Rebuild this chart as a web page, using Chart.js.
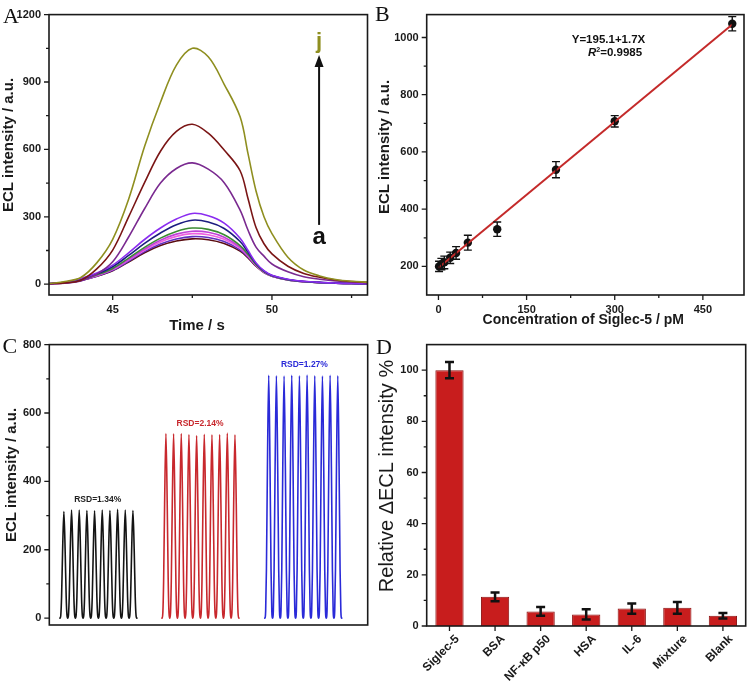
<!DOCTYPE html>
<html><head><meta charset="utf-8">
<script src="https://cdn.jsdelivr.net/npm/chart.js@4.4.1/dist/chart.umd.min.js"></script>
<style>
html,body{margin:0;padding:0;background:#fff}
body{width:750px;height:694px;position:relative;overflow:hidden}
canvas{position:absolute}
.pl{position:absolute;font-family:'Liberation Serif','Times New Roman',serif;font-size:22px;line-height:22px;color:#111;white-space:nowrap}
</style></head><body>
<canvas id="cA" width="375" height="347" style="left:0;top:0"></canvas>
<canvas id="cB" width="375" height="347" style="left:375px;top:0"></canvas>
<canvas id="cC" width="375" height="364" style="left:0;top:330px"></canvas>
<canvas id="cD" width="375" height="364" style="left:375px;top:330px"></canvas>
<div class="pl" style="left:3px;top:4.6px">A</div>
<div class="pl" style="left:375px;top:3.3px">B</div>
<div class="pl" style="left:2.5px;top:334.6px">C</div>
<div class="pl" style="left:376px;top:335.6px">D</div>
<script>
// ---------- Panel A data ----------
const A_TIME = [43,43.5,44,44.5,45,45.5,46,46.5,47,47.5,48,48.5,49,49.25,49.5,49.75,50,50.5,51,51.5,52,52.5,53];
const A_CURVE_A = [2,6,17,35,60,99,140,172,192,202,198,181,147,117,80,52,36,19,11,7,4,3,2];
const A_CURVE_B = [2,6,17,36,62,102,145,179,201,212,208,190,153,121,82,53,36,19,11,7,4,3,2];
const A_CURVE_C = [2,7,18,38,65,107,151,188,213,225,220,200,160,125,84,54,37,20,11,7,4,3,2];
const A_CURVE_D = [2,7,19,40,67,111,157,196,223,236,231,209,165,128,86,55,37,20,12,7,4,3,2];
const A_CURVE_E = [3,8,20,42,70,116,164,205,235,250,244,220,172,133,88,56,38,20,12,7,5,3,2];
const A_CURVE_F = [3,8,22,46,78,128,182,228,265,285,277,248,190,142,92,58,39,21,12,8,5,3,2];
const A_CURVE_G = [3,9,25,50,85,140,199,250,290,315,305,272,205,150,95,60,40,22,13,8,5,3,2];
const A_CURVE_H = [2,5,14,45,100,210,336,450,515,540,512,452,330,240,165,125,90,55,33,22,14,10,7];
const A_CURVE_I = [2,6,18,68,152,300,452,592,680,712,672,597,505,380,252,180,135,80,48,31,19,12,8];
const A_CURVE_J = [3,12,30,95,200,378,613,810,975,1050,1012,890,745,580,415,300,225,120,63,37,21,13,9];
const A_NAMES = ['a','b','c','d','e','f','g','h','i','j'];
const A_X_TICKS = [45, 50];
const A_X_MINOR = [47.5, 52.5];
const A_Y_TICKS = [0, 300, 600, 900, 1200];
const A_Y_MINOR = [150, 450, 750, 1050];

// ---------- Panel B data ----------
const B_CONC = [1, 5, 10, 20, 30, 50, 100, 200, 300, 500];
const B_ECL  = [200, 208, 214, 230, 247, 283, 330, 538, 707, 1048];
const B_ERR  = [18, 20, 22, 20, 22, 26, 25, 28, 20, 25];
const B_FIT_X = [0, 500];
const B_FIT_Y = [195.1, 1045.1];
const B_X_TICKS = [0, 150, 300, 450];
const B_X_MINOR = [75, 225, 375];
const B_Y_TICKS = [200, 400, 600, 800, 1000];
const B_Y_MINOR = [300, 500, 700, 900];

// ---------- Panel C data ----------
const C_BLACK_PEAKS = [312, 316, 316, 315, 314, 316, 315, 318, 316, 315];
const C_RED_PEAKS   = [540, 539, 540, 537, 534, 538, 536, 537, 541, 536];
const C_BLUE_PEAKS  = [710, 709, 708, 710, 709, 711, 709, 708, 710, 709];
const C_RUN_START   = [1.9, 15.2, 28.6];
const C_RSD         = ['RSD=1.34%', 'RSD=2.14%', 'RSD=1.27%'];
const C_Y_TICKS = [0, 200, 400, 600, 800];
const C_Y_MINOR = [100, 300, 500, 700];

// ---------- Panel D data ----------
const D_CATS = ['Siglec-5', 'BSA', 'NF-\u03baB p50', 'HSA', 'IL-6', 'Mixture', 'Blank'];
const D_VALS = [100, 11.4, 5.7, 4.5, 6.8, 7.1, 4.0];
const D_ERR  = [3.2, 1.7, 1.7, 2.0, 2.0, 2.3, 1.1];
const D_Y_TICKS = [0, 20, 40, 60, 80, 100];
const D_Y_MINOR = [10, 30, 50, 70, 90];

// ---------- styles ----------
const FONT = "'Liberation Sans', Arial, Helvetica, sans-serif";
const TXT = '#1a1a1a';
const TICK_FONT = {family: FONT, size: 11, weight: 'bold'};
const A_COLORS = ['#5a0c10','#6030c0','#f060e0','#c040d8','#3a8a32','#1c1c80','#8a2cf0','#7a2a90','#7a1515','#8f8f20'];
const NO_GRID = {display: false, drawTicks: false, tickLength: 0};

// ---------- plugins ----------
const framePlugin = {
  id: 'frame',
  afterDraw(chart, args, o) {
    const {ctx, chartArea: ca} = chart;
    const sx = chart.scales.x, sy = chart.scales.y;
    ctx.save();
    ctx.strokeStyle = '#1a1a1a';
    ctx.lineWidth = 1.3;
    ctx.beginPath();
    const yt = (arr, len) => (arr || []).forEach(v => { const p = sy.getPixelForValue(v); ctx.moveTo(ca.left - len, p); ctx.lineTo(ca.left, p); });
    const xt = (arr, len) => (arr || []).forEach(v => { const p = sx.getPixelForValue(v); ctx.moveTo(p, ca.bottom); ctx.lineTo(p, ca.bottom + len); });
    yt(o.yMajor, 5); yt(o.yMinor, 3); xt(o.xMajor, 5); xt(o.xMinor, 3);
    ctx.stroke();
    ctx.lineWidth = 1.6;
    ctx.strokeRect(ca.left, ca.top, ca.right - ca.left, ca.bottom - ca.top);
    ctx.restore();
  }
};

const errPlugin = {
  id: 'errbars',
  afterDatasetsDraw(chart) {
    const {ctx} = chart; const sy = chart.scales.y;
    chart.data.datasets.forEach((ds, di) => {
      if (!ds.errors) return;
      const meta = chart.getDatasetMeta(di);
      const st = ds.errStyle;
      ctx.save();
      ctx.strokeStyle = st.color; ctx.lineWidth = st.width;
      meta.data.forEach((el, i) => {
        const d = ds.data[i];
        const v = (typeof d === 'object') ? d.y : d;
        const e = ds.errors[i];
        const x = el.x, y1 = sy.getPixelForValue(v + e), y2 = sy.getPixelForValue(v - e);
        ctx.beginPath();
        ctx.moveTo(x, y1); ctx.lineTo(x, y2);
        ctx.moveTo(x - st.cap, y1); ctx.lineTo(x + st.cap, y1);
        ctx.moveTo(x - st.cap, y2); ctx.lineTo(x + st.cap, y2);
        ctx.stroke();
      });
      ctx.restore();
    });
  }
};

// axis titles drawn at fixed places of the panel layout
const titlesPlugin = {
  id: 'axtitles',
  afterDraw(chart, args, o) {
    if (!o || !o.items) return;
    const {ctx} = chart;
    o.items.forEach(it => {
      ctx.save();
      ctx.font = (it.weight || 'bold') + ' ' + it.size + 'px ' + FONT;
      ctx.fillStyle = TXT; ctx.textAlign = 'center'; ctx.textBaseline = 'middle';
      ctx.translate(it.cx, it.cy);
      if (it.vertical) ctx.rotate(-Math.PI / 2);
      ctx.fillText(it.text, 0, 0);
      ctx.restore();
    });
  }
};

const notesPlugin = {
  id: 'notes',
  afterDraw(chart, args, o) {
    if (!o || !o.items) return;
    const {ctx} = chart; const sx = chart.scales.x, sy = chart.scales.y;
    o.items.forEach(it => {
      ctx.save();
      if (it.type === 'arrow') {
        const x = sx.getPixelForValue(it.x), y1 = sy.getPixelForValue(it.y1), y2 = sy.getPixelForValue(it.y2);
        ctx.strokeStyle = it.color; ctx.fillStyle = it.color; ctx.lineWidth = it.width;
        ctx.beginPath(); ctx.moveTo(x, y1); ctx.lineTo(x, y2 + it.head - 1); ctx.stroke();
        ctx.beginPath(); ctx.moveTo(x, y2); ctx.lineTo(x - it.headW / 2, y2 + it.head); ctx.lineTo(x + it.headW / 2, y2 + it.head); ctx.closePath(); ctx.fill();
      } else if (it.type === 'rich') {
        const x = sx.getPixelForValue(it.x), y = sy.getPixelForValue(it.y);
        const segs = it.segs.map(s => {
          const size = s.sup ? it.size * 0.62 : it.size;
          const f = (s.italic ? 'italic ' : '') + 'bold ' + size + 'px ' + FONT;
          ctx.font = f;
          return {t: s.t, f, w: ctx.measureText(s.t).width, dy: s.sup ? -it.size * 0.38 : 0};
        });
        let cx = x - segs.reduce((a, s) => a + s.w, 0) / 2;
        ctx.fillStyle = it.color; ctx.textBaseline = 'alphabetic'; ctx.textAlign = 'left';
        segs.forEach(s => { ctx.font = s.f; ctx.fillText(s.t, cx, y + s.dy); cx += s.w; });
      } else {
        const x = sx.getPixelForValue(it.x), y = sy.getPixelForValue(it.y);
        ctx.font = 'bold ' + it.size + 'px ' + FONT;
        ctx.fillStyle = it.color; ctx.textAlign = 'center'; ctx.textBaseline = it.baseline || 'alphabetic';
        ctx.fillText(it.text, x, y);
      }
      ctx.restore();
    });
  }
};

const ticksFrom = arr => s => { s.ticks = arr.map(v => ({value: v})); };
const numLabel = v => String(v);

function yAxis(min, max, ticks, width) {
  return {
    type: 'linear', min, max,
    afterBuildTicks: ticksFrom(ticks),
    afterFit: s => { s.width = width; },
    grid: NO_GRID, border: {display: false},
    ticks: {font: TICK_FONT, color: TXT, padding: 8, callback: numLabel}
  };
}

// ---------- Panel A ----------
const A_SERIES = [A_CURVE_A, A_CURVE_B, A_CURVE_C, A_CURVE_D, A_CURVE_E, A_CURVE_F, A_CURVE_G, A_CURVE_H, A_CURVE_I, A_CURVE_J];
new Chart(document.getElementById('cA'), {
  type: 'line',
  data: {
    datasets: A_SERIES.map((arr, k) => ({
      label: A_NAMES[k],
      data: A_TIME.map((t, i) => ({x: t, y: arr[i]})),
      borderColor: A_COLORS[k], borderWidth: 1.6, pointRadius: 0, tension: 0.35, fill: false
    })).reverse()
  },
  options: {
    responsive: false, animation: false, events: [],
    layout: {padding: {left: 0, top: 7.5, right: 7.5, bottom: 0}},
    plugins: {
      legend: {display: false}, tooltip: {enabled: false},
      frame: {xMajor: A_X_TICKS, xMinor: A_X_MINOR, yMajor: A_Y_TICKS, yMinor: A_Y_MINOR},
      axtitles: {items: [
        {text: 'Time / s', size: 15, cx: 197, cy: 326},
        {text: 'ECL intensity / a.u.', size: 15, cx: 9, cy: 145, vertical: true}
      ]},
      notes: {items: [
        {type: 'arrow', x: 51.48, y1: 264, y2: 1020, color: '#111', width: 2, head: 12, headW: 9},
        {type: 'text', x: 51.48, y: 1052, text: 'j', size: 22, color: '#8f8f20'},
        {type: 'text', x: 51.48, y: 178, text: 'a', size: 24, color: '#111'}
      ]}
    },
    scales: {
      x: {
        type: 'linear', min: 43, max: 53,
        afterBuildTicks: ticksFrom(A_X_TICKS),
        afterFit: s => { s.height = 52; },
        grid: NO_GRID, border: {display: false},
        ticks: {font: TICK_FONT, color: TXT, padding: 8, maxRotation: 0, callback: numLabel}
      },
      y: yAxis(-48, 1200, A_Y_TICKS, 49)
    }
  },
  plugins: [framePlugin, notesPlugin, titlesPlugin]
});

// ---------- Panel B ----------
new Chart(document.getElementById('cB'), {
  type: 'scatter',
  data: {
    datasets: [
      {label: 'fit', type: 'line', data: B_FIT_X.map((x, i) => ({x, y: B_FIT_Y[i]})), borderColor: '#c42a2a', borderWidth: 2, pointRadius: 0, fill: false},
      {label: 'ECL', data: B_CONC.map((x, i) => ({x, y: B_ECL[i]})), backgroundColor: '#111', borderColor: '#111', pointRadius: 4.2, pointBorderWidth: 0,
       errors: B_ERR, errStyle: {color: '#111', width: 1.4, cap: 4}}
    ]
  },
  options: {
    responsive: false, animation: false, events: [],
    layout: {padding: {left: 0, top: 8.3, right: 6, bottom: 0}},
    plugins: {
      legend: {display: false}, tooltip: {enabled: false},
      frame: {xMajor: B_X_TICKS, xMinor: B_X_MINOR, yMajor: B_Y_TICKS, yMinor: B_Y_MINOR},
      axtitles: {items: [
        {text: 'Concentration of Siglec-5 / pM', size: 14, cx: 208.3, cy: 320},
        {text: 'ECL intensity / a.u.', size: 15, cx: 10, cy: 147, vertical: true}
      ]},
      notes: {items: [
        {type: 'text', x: 289.4, y: 982, text: 'Y=195.1+1.7X', size: 11.5, color: '#111'},
        {type: 'rich', x: 300.5, y: 935, size: 11.5, color: '#111', segs: [{t: 'R', italic: true}, {t: '2', sup: true}, {t: '=0.9985'}]}
      ]}
    },
    scales: {
      x: {
        type: 'linear', min: -20, max: 520,
        afterBuildTicks: ticksFrom(B_X_TICKS),
        afterFit: s => { s.height = 52; },
        grid: NO_GRID, border: {display: false},
        ticks: {font: TICK_FONT, color: TXT, padding: 8, maxRotation: 0, callback: numLabel}
      },
      y: yAxis(100, 1080, B_Y_TICKS, 51.7)
    }
  },
  plugins: [errPlugin, framePlugin, notesPlugin, titlesPlugin]
});

// ---------- Panel C ----------
const PEAK_DT = [-0.5, -0.4, -0.3, -0.17, 0, 0.17, 0.3, 0.4];
const PEAK_F  = [0, 0.03, 0.2, 0.62, 1, 0.62, 0.2, 0.03];
function runPoints(start, heights) {
  const pts = [{x: start - 0.6, y: 0}];
  heights.forEach((h, i) => {
    const c = start + i;
    PEAK_DT.forEach((d, k) => pts.push({x: c + d, y: h * PEAK_F[k]}));
  });
  const last = start + heights.length - 1;
  pts.push({x: last + 0.5, y: 0}, {x: last + 0.6, y: 0});
  return pts;
}
const C_RUNS = [C_BLACK_PEAKS, C_RED_PEAKS, C_BLUE_PEAKS];
const C_COLORS = ['#141414', '#c8282d', '#2a2ad8'];
new Chart(document.getElementById('cC'), {
  type: 'line',
  data: {
    datasets: C_RUNS.map((h, k) => ({
      label: C_RSD[k], data: runPoints(C_RUN_START[k], h),
      borderColor: C_COLORS[k], borderWidth: 1.6, pointRadius: 0, cubicInterpolationMode: 'monotone', fill: false
    }))
  },
  options: {
    responsive: false, animation: false, events: [],
    layout: {padding: {left: 0, top: 8.3, right: 7.3, bottom: 0}},
    plugins: {
      legend: {display: false}, tooltip: {enabled: false},
      frame: {yMajor: C_Y_TICKS, yMinor: C_Y_MINOR},
      axtitles: {items: [
        {text: 'ECL intensity / a.u.', size: 15, cx: 12, cy: 145, vertical: true}
      ]},
      notes: {items: [
        {type: 'text', x: 6.31, y: 348, text: C_RSD[0], size: 8.5, color: '#222', baseline: 'middle'},
        {type: 'text', x: 19.65, y: 569, text: C_RSD[1], size: 8.5, color: '#c8282d', baseline: 'middle'},
        {type: 'text', x: 33.25, y: 741, text: C_RSD[2], size: 8.5, color: '#2a2ad8', baseline: 'middle'}
      ]}
    },
    scales: {
      x: {
        type: 'linear', min: 0, max: 41.5,
        afterBuildTicks: s => { s.ticks = []; },
        afterFit: s => { s.height = 69; },
        grid: NO_GRID, border: {display: false},
        ticks: {display: false}
      },
      y: yAxis(-20, 800, C_Y_TICKS, 49.3)
    }
  },
  plugins: [framePlugin, notesPlugin, titlesPlugin]
});

// ---------- Panel D ----------
new Chart(document.getElementById('cD'), {
  type: 'bar',
  data: {
    labels: D_CATS,
    datasets: [{
      label: 'Relative', data: D_VALS, backgroundColor: '#c81d1d', borderColor: '#8a1212', borderWidth: 1,
      barPercentage: 0.62, categoryPercentage: 1.0,
      errors: D_ERR, errStyle: {color: '#111', width: 2.5, cap: 4.5}
    }]
  },
  options: {
    responsive: false, animation: false, events: [],
    layout: {padding: {left: 0, top: 8.3, right: 4.3, bottom: 0}},
    plugins: {
      legend: {display: false}, tooltip: {enabled: false},
      frame: {xMajor: [0, 1, 2, 3, 4, 5, 6], yMajor: D_Y_TICKS, yMinor: D_Y_MINOR},
      axtitles: {items: [
        {text: 'Relative \u0394ECL intensity %', size: 20, weight: 'normal', cx: 12, cy: 146, vertical: true}
      ]}
    },
    scales: {
      x: {
        type: 'category', offset: true,
        afterFit: s => { s.height = 68; },
        grid: {display: false, drawTicks: false, tickLength: 0, offset: true}, border: {display: false},
        ticks: {font: {family: FONT, size: 12, weight: 'bold'}, color: TXT, minRotation: 45, maxRotation: 45, padding: 6, labelOffset: 8, autoSkip: false}
      },
      y: yAxis(0, 110, D_Y_TICKS, 51.7)
    }
  },
  plugins: [errPlugin, framePlugin, titlesPlugin]
});
</script>
</body></html>
